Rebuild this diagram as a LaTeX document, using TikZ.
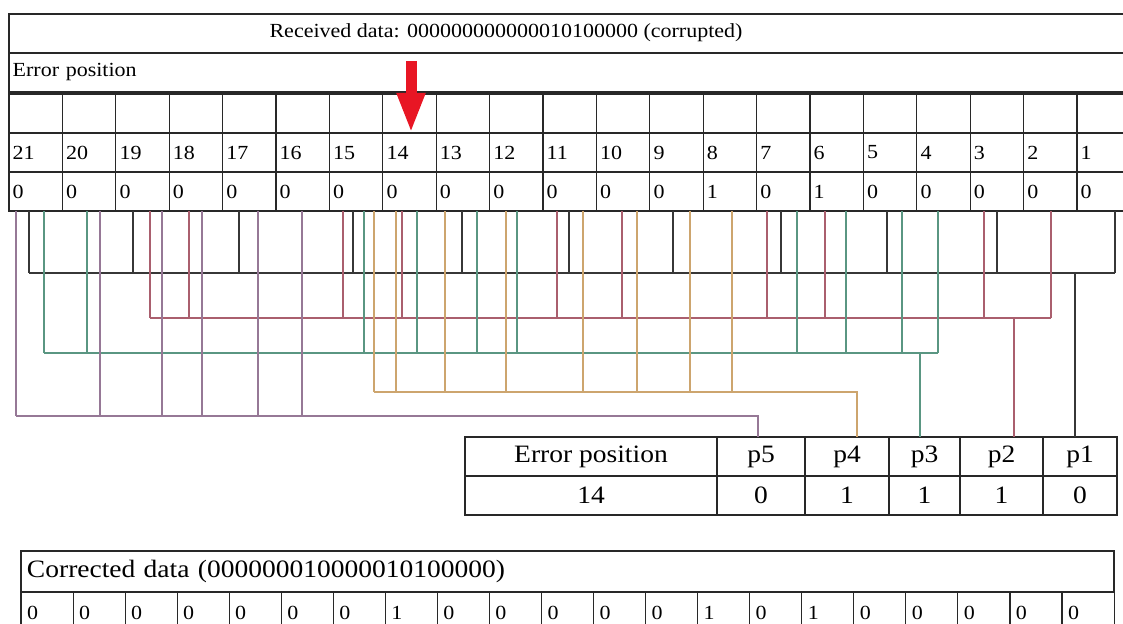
\documentclass[tikz,border=0pt]{standalone}
\usepackage{fontspec}
\setmainfont{Liberation Serif}[FakeStretch=1.1]
\usetikzlibrary{
    arrows.meta,
    positioning
}

\definecolor{gridc}{RGB}{40,40,40}
\definecolor{onec}{RGB}{55,55,55}
\definecolor{twoc}{RGB}{170,95,110}
\definecolor{threec}{RGB}{90,150,130}
\definecolor{fourc}{RGB}{205,165,110}
\definecolor{fivec}{RGB}{150,120,150}
\definecolor{arrowc}{RGB}{232,22,36}

\begin{document}
\begin{tikzpicture}[
    x=1pt, y=-1pt,
    rowbox/.style = {draw=gridc, line width=1.1pt, anchor=north west,
                     minimum width=1121.4pt, minimum height=39pt,
                     inner sep=0pt, outer sep=0pt, text width=1114pt, align=left,
                     font=\fontsize{20}{24}\selectfont},
    bitcell/.style = {draw=gridc, line width=1.1pt, anchor=north west,
                      minimum width=53.4pt, minimum height=39pt,
                      inner sep=0pt, outer sep=0pt, text width=46pt, align=left,
                      font=\fontsize{20}{24}\selectfont},
    syndcell/.style = {draw=gridc, line width=1.1pt, anchor=north west,
                       minimum height=39pt, inner sep=0pt, outer sep=0pt,
                       font=\fontsize{25}{30}\selectfont},
    fixcell/.style = {draw=gridc, line width=1.1pt, anchor=north west,
                      minimum width=52.05pt, minimum height=41pt,
                      inner sep=0pt, outer sep=0pt, text width=40pt, align=left,
                      font=\fontsize{20}{24}\selectfont},
    busone/.style = {draw=onec, line width=1.4pt},
    bustwo/.style = {draw=twoc, line width=1.2pt},
    busthree/.style = {draw=threec, line width=1.2pt},
    busfour/.style = {draw=fourc, line width=1.2pt},
    busfive/.style = {draw=fivec, line width=1.2pt},
    errarrow/.style = {draw=arrowc, line width=11pt,
                       -{Triangle[width=26pt, length=40pt]}}
]
    \useasboundingbox (0,0) rectangle (1123,623);

    % received word
    \node[rowbox] (recv) at (9,14) {};
    \node[font=\fontsize{20}{24}\selectfont] (recvtext) at (506,33)
        {Received data: 000000000000010100000 (corrupted)};
    \node[rowbox] (errrow) at (9,53) {Error position};
    \foreach \b [count=\i from 0] in {0,0,0,0,0,0,0,0,0,0,0,0,0,1,0,1,0,0,0,0,0} {
        \pgfmathtruncatemacro{\bitpos}{21-\i}
        \node[bitcell] (e\bitpos) at ({9+\i*53.4}, 94) {};
        \node[bitcell] (n\bitpos) at ({9+\i*53.4}, 133) {\bitpos};
        \node[bitcell] (v\bitpos) at ({9+\i*53.4}, 172) {\b};
    }
    \draw[errarrow] (411,61) -- (n14.north -| 411,0);

    % syndrome table
    \node[syndcell, minimum width=252pt] (errhead) at (465,437) {Error position};
    \node[syndcell, minimum width=88pt] (q5) [right=0pt of errhead] {p5};
    \node[syndcell, minimum width=84pt] (q4) [right=0pt of q5] {p4};
    \node[syndcell, minimum width=71pt] (q3) [right=0pt of q4] {p3};
    \node[syndcell, minimum width=83pt] (q2) [right=0pt of q3] {p2};
    \node[syndcell, minimum width=74pt] (q1) [right=0pt of q2] {p1};
    \node[syndcell, minimum width=252pt] (errval) [below=0pt of errhead] {14};
    \node[syndcell, minimum width=88pt] (s5) [below=0pt of q5] {0};
    \node[syndcell, minimum width=84pt] (s4) [below=0pt of q4] {1};
    \node[syndcell, minimum width=71pt] (s3) [below=0pt of q3] {1};
    \node[syndcell, minimum width=83pt] (s2) [below=0pt of q2] {1};
    \node[syndcell, minimum width=74pt] (s1) [below=0pt of q1] {0};

    % parity p1
    \foreach \bitpos/\x in {21/29,19/133,17/239,15/353,13/462,11/569,9/673,7/781,5/887,3/997,1/1115}
        \draw[busone] (v\bitpos.south -| \x,0) -- (\x,273);
    \draw[busone] (29,273) -- (1115,273);
    \coordinate (endone) at (1075,273);
    \draw[busone] (endone) -- (q1.north -| endone);

    % parity p2
    \foreach \bitpos/\x in {19/150,18/189,15/343,14/402,11/557,10/622,7/767,6/825,3/984,2/1051}
        \draw[bustwo] (v\bitpos.south -| \x,0) -- (\x,318);
    \draw[bustwo] (150,318) -- (1051,318);
    \coordinate (endtwo) at (1014,318);
    \draw[bustwo] (endtwo) -- (q2.north -| endtwo);

    % parity p3
    \foreach \bitpos/\x in {21/44,20/87,15/364,14/417,13/477,12/517,7/797,6/846,5/902,4/938}
        \draw[busthree] (v\bitpos.south -| \x,0) -- (\x,353);
    \draw[busthree] (44,353) -- (938,353);
    \coordinate (endthree) at (920,353);
    \draw[busthree] (endthree) -- (q3.north -| endthree);

    % parity p4
    \foreach \bitpos/\x in {15/374,14/396,13/445,12/506,11/583,10/637,9/690,8/732}
        \draw[busfour] (v\bitpos.south -| \x,0) -- (\x,392);
    \coordinate (endfour) at (857,392);
    \draw[busfour] (374,392) -- (endfour) -- (q4.north -| endfour);

    % parity p5
    \foreach \bitpos/\x in {21/16,20/100,19/162,18/202,17/258,16/302}
        \draw[busfive] (v\bitpos.south -| \x,0) -- (\x,416);
    \coordinate (endfive) at (758,416);
    \draw[busfive] (16,416) -- (endfive) -- (q5.north -| endfive);

    % corrected word
    \node[rowbox, minimum width=1093pt, minimum height=41pt, text width=1081pt,
          font=\fontsize{25}{30}\selectfont] (fixrow) at (21,551)
        {Corrected data (000000010000010100000)};
    \foreach \b [count=\i from 0] in {0,0,0,0,0,0,0,1,0,0,0,0,0,1,0,1,0,0,0,0,0} {
        \pgfmathtruncatemacro{\bitpos}{21-\i}
        \node[fixcell] (f\bitpos) at ({21+\i*52.05}, 592) {\b};
    }

\end{tikzpicture}
\end{document}
